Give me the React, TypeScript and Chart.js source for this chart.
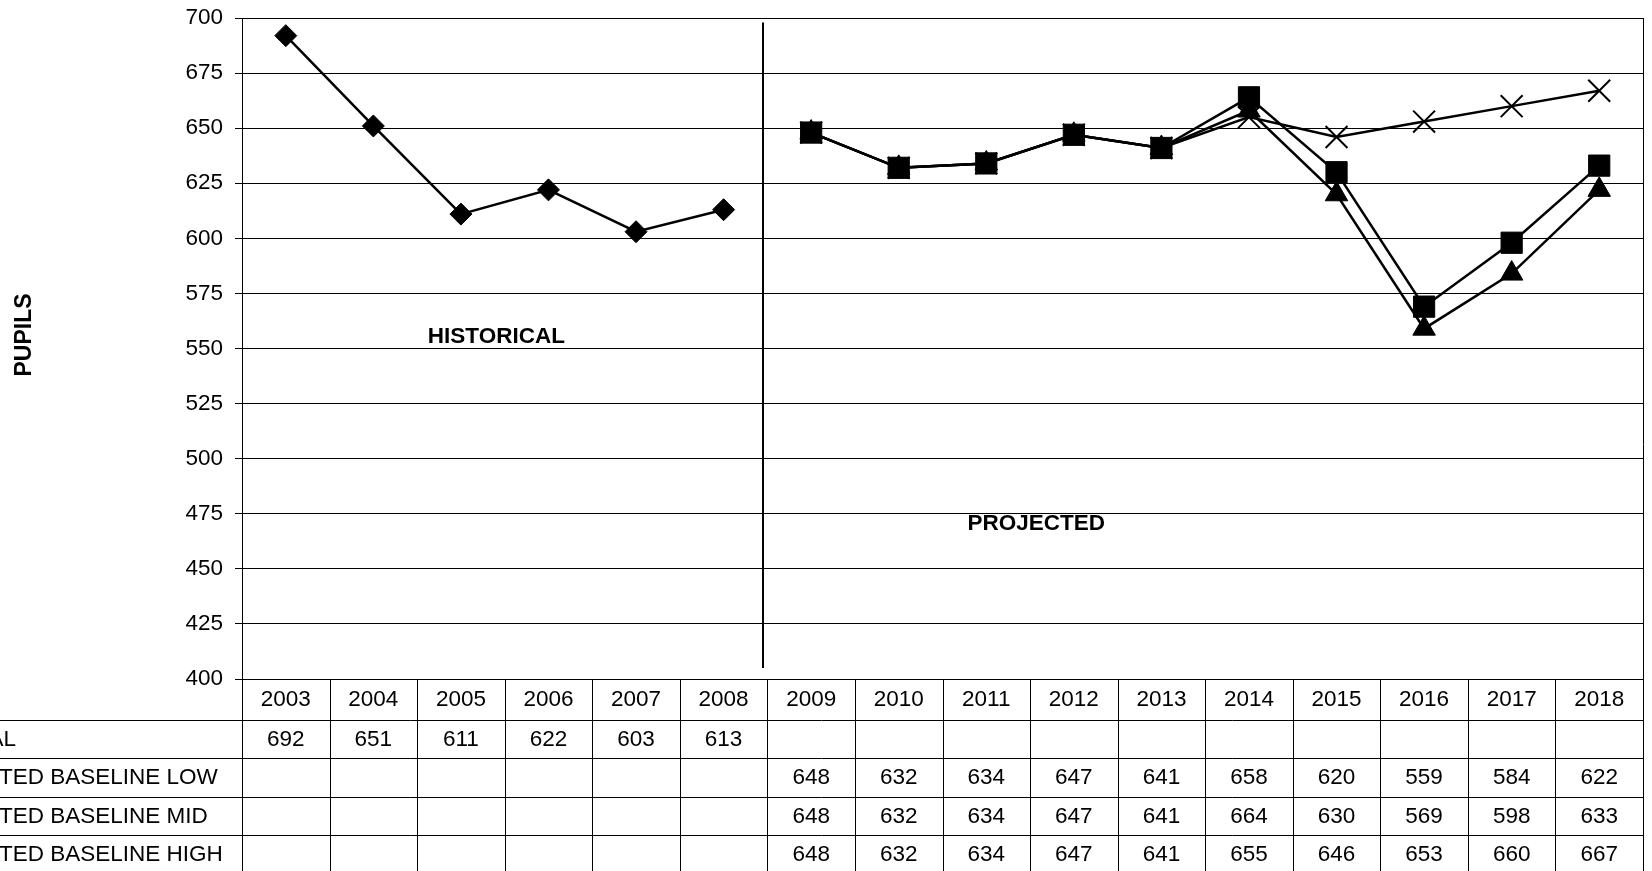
import React, { useEffect, useRef } from "react";
import { Chart, registerables } from "chart.js";

Chart.register(...registerables);

const YEARS = ["2003", "2004", "2005", "2006", "2007", "2008", "2009", "2010", "2011", "2012", "2013", "2014", "2015", "2016", "2017", "2018"];
const HISTORICAL = [692, 651, 611, 622, 603, 613, null, null, null, null, null, null, null, null, null, null];
const PROJ_LOW = [null, null, null, null, null, null, 648, 632, 634, 647, 641, 658, 620, 559, 584, 622];
const PROJ_MID = [null, null, null, null, null, null, 648, 632, 634, 647, 641, 664, 630, 569, 598, 633];
const PROJ_HIGH = [null, null, null, null, null, null, 648, 632, 634, 647, 641, 655, 646, 653, 660, 667];
const ROW_LABELS = ["HISTORICAL", "PROJECTED BASELINE LOW", "PROJECTED BASELINE MID", "PROJECTED BASELINE HIGH"];
const Y_MIN = 400;
const Y_MAX = 700;
const Y_STEP = 25;

const FONT = "'Liberation Sans', Arial, sans-serif";
const FS = 22.5;
const RIGHT_MARGIN = 9;

const tablePlugin = {
  id: "tablePlugin",
  afterLayout(chart: any) {
    // marker overflow forces extra right padding; restore the plot's right edge
    const target = chart.width - RIGHT_MARGIN;
    const ca = chart.chartArea;
    ca.right = target;
    ca.width = ca.right - ca.left;
    const x = chart.scales.x;
    x.right = target;
    x.width = x.right - x.left;
    x.configure();
  },
  afterDraw(chart: any) {
    const { ctx, chartArea: ca, scales } = chart;
    const x = scales.x;
    const n = YEARS.length;
    const colW = (ca.right - ca.left) / n;
    const headerTop = ca.bottom;
    const headerH = 40.5;
    const rowH = 38.5;
    const H = chart.height;
    const crisp = (v: number) => Math.round(v) + 0.5;

    ctx.save();
    ctx.strokeStyle = "#000";
    ctx.lineWidth = 1;
    // plot right border
    ctx.beginPath();
    ctx.moveTo(crisp(ca.right), ca.top);
    ctx.lineTo(crisp(ca.right), H);
    ctx.stroke();

    // table horizontal lines
    for (let r = 0; r < ROW_LABELS.length + 1; r++) {
      const yy = crisp(headerTop + headerH + r * rowH);
      ctx.beginPath();
      ctx.moveTo(0, yy);
      ctx.lineTo(ca.right, yy);
      ctx.stroke();
    }
    // table vertical lines
    for (let i = 0; i <= n; i++) {
      const xx = crisp(ca.left + i * colW);
      ctx.beginPath();
      ctx.moveTo(xx, headerTop);
      ctx.lineTo(xx, H);
      ctx.stroke();
    }

    ctx.fillStyle = "#000";
    ctx.font = `${FS}px ${FONT}`;
    ctx.textBaseline = "middle";
    ctx.textAlign = "center";
    for (let i = 0; i < n; i++) {
      ctx.fillText(YEARS[i], x.getPixelForValue(i), headerTop + headerH / 2 + 1);
    }
    const series = [HISTORICAL, PROJ_LOW, PROJ_MID, PROJ_HIGH];
    series.forEach((vals, r) => {
      const cy = headerTop + headerH + r * rowH + rowH / 2 + 1;
      vals.forEach((v, i) => {
        if (v !== null) ctx.fillText(String(v), x.getPixelForValue(i), cy);
      });
    });

    // row labels (clipped at the left edge as in the source)
    const x0 = -ctx.measureText("PROJEC").width - 1;
    ROW_LABELS.forEach((label, r) => {
      const cy = headerTop + headerH + r * rowH + rowH / 2 + 1;
      if (r === 0) {
        ctx.textAlign = "right";
        ctx.fillText(label, 16, cy);
      } else {
        ctx.textAlign = "left";
        ctx.fillText(label, x0, cy);
      }
    });

    // axis title
    ctx.save();
    ctx.translate(25, 335);
    ctx.rotate(-Math.PI / 2);
    ctx.textAlign = "center";
    ctx.font = `bold 23px ${FONT}`;
    ctx.fillText("PUPILS", 0, 0);
    ctx.restore();

    ctx.restore();
  },
  beforeDatasetsDraw(chart: any) {
    const { ctx, scales } = chart;
    const x = scales.x;
    const y = scales.y;
    ctx.save();
    const sx = Math.round(x.getPixelForValue(5.45));
    ctx.strokeStyle = "#000";
    ctx.lineWidth = 2;
    ctx.beginPath();
    ctx.moveTo(sx, y.getPixelForValue(698));
    ctx.lineTo(sx, y.getPixelForValue(405));
    ctx.stroke();

    ctx.fillStyle = "#000";
    ctx.font = `bold ${FS}px ${FONT}`;
    ctx.textAlign = "center";
    ctx.textBaseline = "middle";
    ctx.fillText("HISTORICAL", x.getPixelForValue(2.405), y.getPixelForValue(555.5));
    ctx.fillText("PROJECTED", x.getPixelForValue(8.57), y.getPixelForValue(470.5));
    ctx.restore();
  },
};

export default function App() {
  const ref = useRef<HTMLCanvasElement | null>(null);

  useEffect(() => {
    if (!ref.current) return;
    Chart.defaults.font.family = FONT;
    const common = {
      borderColor: "#000",
      backgroundColor: "#000",
      pointBackgroundColor: "#000",
      pointBorderColor: "#000",
      borderWidth: 2.5,
      tension: 0,
      spanGaps: false,
      fill: false,
    };
    const chart = new Chart(ref.current, {
      type: "line",
      data: {
        labels: YEARS,
        datasets: [
          { ...common, label: ROW_LABELS[0], data: HISTORICAL, pointStyle: "rectRot", pointRadius: 11, pointBorderWidth: 1, order: 0 },
          { ...common, label: ROW_LABELS[1], data: PROJ_LOW, pointStyle: "triangle", pointRadius: 13, pointBorderWidth: 1, order: 1 },
          { ...common, label: ROW_LABELS[2], data: PROJ_MID, pointStyle: "rect", pointRadius: 15, pointBorderWidth: 1, order: 0 },
          { ...common, label: ROW_LABELS[3], data: PROJ_HIGH, pointStyle: "crossRot", pointRadius: 15.5, pointBorderWidth: 2, order: 2 },
        ] as any,
      },
      options: {
        responsive: false,
        animation: false,
        events: [],
        devicePixelRatio: 1,
        layout: { padding: { left: 0, right: RIGHT_MARGIN, top: 18, bottom: 192 } },
        plugins: {
          legend: { display: false },
          tooltip: { enabled: false },
          title: { display: false },
        },
        scales: {
          x: {
            type: "category",
            display: false,
            offset: true,
            ticks: { display: false },
            grid: { display: false },
          },
          y: {
            min: Y_MIN,
            max: Y_MAX,
            ticks: {
              stepSize: Y_STEP,
              color: "#000",
              font: { size: FS, family: FONT },
              padding: 12,
            },
            grid: {
              color: "#000",
              lineWidth: 1,
              tickLength: 7,
              tickColor: "#000",
              drawTicks: true,
            },
            border: { display: true, color: "#000", width: 1 },
            afterFit: (s: any) => {
              s.width = 242;
              s.paddingTop = 0;
              s.paddingBottom = 0;
            },
          },
        },
      } as any,
      plugins: [tablePlugin],
    });
    return () => chart.destroy();
  }, []);

  return (
    <div style={{ position: "fixed", left: 0, top: 0, width: 1652, height: 871, background: "#fff" }}>
      <canvas ref={ref} width={1652} height={871} style={{ width: 1652, height: 871, display: "block" }} />
    </div>
  );
}
